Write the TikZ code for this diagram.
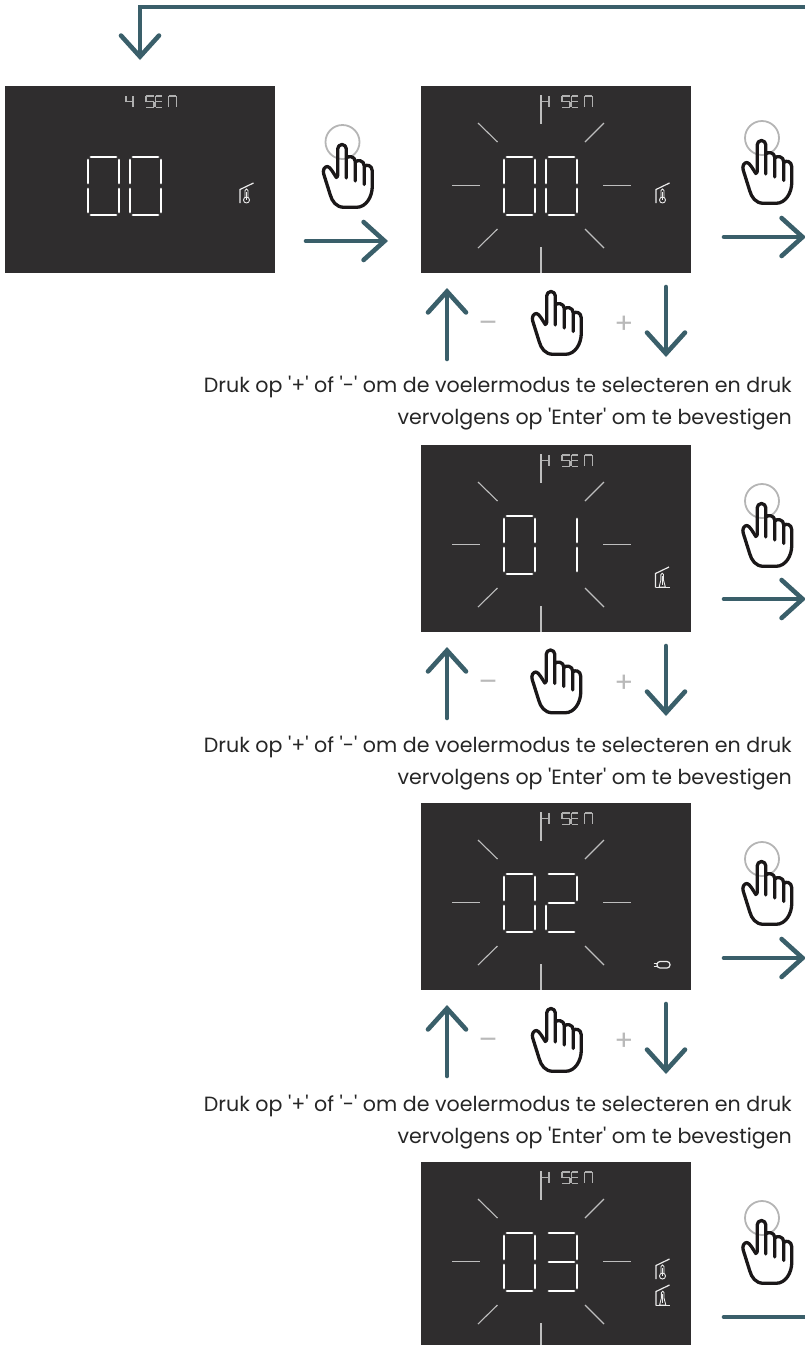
\documentclass[tikz,border=0pt]{standalone}
\usepackage{fontspec}
\newfontfamily\capfont{Poppins}
\usetikzlibrary{arrows.meta}
\definecolor{panelc}{HTML}{2F2D2E}
\definecolor{teal}{HTML}{3A5F6A}
\definecolor{rayc}{HTML}{BEBEBE}
\definecolor{smallc}{HTML}{B0B0B0}
\definecolor{signc}{HTML}{B9B9B9}
\definecolor{ringc}{HTML}{B5B5B5}
\definecolor{handc}{HTML}{1A1718}
\tikzset{
  panelbox/.style={fill=panelc,draw=none,inner sep=0pt,outer sep=0pt,anchor=north west,minimum width=270pt,minimum height=187pt},
  flow/.style={draw=teal,line width=4.6pt,line cap=round,line join=miter,-{Straight Barb[length=21pt,width=38pt,line cap=round]}},
  bigseg/.style={draw=white,line width=2.5pt,line cap=round},
  tinyseg/.style={draw=smallc,line width=1.2pt,line cap=butt},
  ray/.style={draw=rayc,line width=1.1pt},
  iconline/.style={draw=white!92!black,line width=1.2pt},
  handline/.style={draw=handc,line width=3.3pt,line cap=round,line join=round},
  ringline/.style={draw=ringc,line width=1.8pt},
  caption/.style={align=right,anchor=north east,inner sep=0pt,font=\capfont\fontsize{20.6}{31.6}\selectfont,text=black!85},
  signtext/.style={text=signc,inner sep=0pt,font=\capfont\fontsize{28}{28}\selectfont}
}
% x, y, w, h, style, list of segments (0 top,1 ul,2 ur,3 mid,4 ll,5 lr,6 bottom)
\newcommand\sevenseg[7][0.05]{%
  \foreach \s in {#7}{%
    \pgfmathsetmacro\gp{#5*#1}%
    \ifcase\s
      \draw[#6] (#2+\gp,#3) -- (#2+#4-\gp,#3);
    \or \draw[#6] (#2,#3+\gp) -- (#2,#3+#5/2-\gp);
    \or \draw[#6] (#2+#4,#3+\gp) -- (#2+#4,#3+#5/2-\gp);
    \or \draw[#6] (#2+\gp,#3+#5/2) -- (#2+#4-\gp,#3+#5/2);
    \or \draw[#6] (#2,#3+#5/2+\gp) -- (#2,#3+#5-\gp);
    \or \draw[#6] (#2+#4,#3+#5/2+\gp) -- (#2+#4,#3+#5-\gp);
    \or \draw[#6] (#2+\gp,#3+#5) -- (#2+#4-\gp,#3+#5);
    \fi}}
\newcommand\legend[2]{%
  \sevenseg[0.02]{#1+141}{#2+10}{8}{11.5}{tinyseg}{0,1,3,5,6}%
  \sevenseg[0.02]{#1+150.5}{#2+10}{7}{11.5}{tinyseg}{0,1,3,4,6}%
  \sevenseg[0.02]{#1+163.5}{#2+10}{8}{11.5}{tinyseg}{0,1,2,4,5}}
\newcommand\fourlegend[2]{%
  \sevenseg[0.02]{#1+121}{#2+10}{7}{11.5}{tinyseg}{1,2,3,5}%
  \legend{#1}{#2}}
\newcommand\hlegend[2]{%
  \sevenseg[0.02]{#1+120}{#2+10}{8}{11.5}{tinyseg}{2,3,5}%
  \legend{#1}{#2}}
\newcommand\rays[3]{%
  \draw[ray] (#1+120,#2+9) -- (#1+120,#2+38);
  \draw[ray] (#1+120,#2+161) -- (#1+120,#2+#3);
  \draw[ray] (#1+31,#2+99.5) -- (#1+59,#2+99.5);
  \draw[ray] (#1+182,#2+99.5) -- (#1+209.5,#2+99.5);
  \draw[ray] (#1+57,#2+37) -- (#1+76.5,#2+56);
  \draw[ray] (#1+183,#2+37) -- (#1+164,#2+56);
  \draw[ray] (#1+57,#2+162) -- (#1+76.5,#2+143);
  \draw[ray] (#1+183,#2+162) -- (#1+164,#2+143);}
\newcommand\houseicon[2]{%
  \draw[iconline] (#1,#2+20) -- (#1,#2+6.5) -- (#1+13.5,#2);
  \draw[iconline,line width=.9pt] (#1+5,#2+14.4) -- (#1+5,#2+7.5) arc[start angle=180,end angle=360,radius=1.5] -- (#1+8,#2+14.4);
  \draw[iconline,line width=.9pt] (#1+6.5,#2+17) circle[radius=3];
  \draw[iconline,line width=1.1pt] (#1+6.5,#2+9) -- (#1+6.5,#2+17);}
\newcommand\houseflat[2]{%
  \draw[iconline] (#1,#2+20.5) -- (#1,#2+6.5) -- (#1+13.5,#2);
  \draw[iconline] (#1,#2+20.5) -- (#1+14,#2+20.5);
  \draw[iconline,line width=.9pt] (#1+5.4,#2+13) -- (#1+5.4,#2+7.5) arc[start angle=180,end angle=360,radius=1.3] -- (#1+8,#2+13) -- (#1+9.8,#2+20) -- (#1+3.6,#2+20) -- cycle;
  \draw[iconline,line width=1.1pt] (#1+6.7,#2+9) -- (#1+6.7,#2+18);}
\newcommand\hand[2]{%
  \begin{scope}[shift={(#1,#2)}]
  \draw[handline] (-4.3,33) -- (-4.3,5.8) arc[start angle=180,end angle=360,radius=4.3] -- (4.3,35);
  \draw[handline] (4.3,15) .. controls (5.5,12.5) and (13.3,13) .. (13.3,18.5) -- (13.3,38);
  \draw[handline] (13.3,19) .. controls (15,16.5) and (22.3,17) .. (22.3,23) -- (22.3,41.5);
  \draw[handline] (22.3,23.5) .. controls (24,21) and (30.3,22) .. (30.3,28) -- (30.3,43)
    .. controls (30.3,54) and (24,64.3) .. (14.5,64.3) -- (2,64.3)
    .. controls (-6,64.3) and (-10,58) .. (-11.7,52) -- (-18.3,31)
    .. controls (-19.5,27) and (-17.5,23.5) .. (-14.5,23.5) .. controls (-12,23.5) and (-8,31) .. (-5.7,34.5) -- (-4.3,33);
  \end{scope}}
\begin{document}
\begin{tikzpicture}[x=1pt,y=-1pt]
\useasboundingbox (0,0) rectangle (804,1345);
\node[panelbox] (p1) at (5,86) {};
\node[panelbox] (p2) at (421,86) {};
\node[panelbox] (p3) at (421,445) {};
\node[panelbox] (p4) at (421,803) {};
\node[panelbox,minimum height=183pt] (p5) at (421,1162) {};
% panel 1
\fourlegend{5}{86}
\sevenseg{88}{157}{31}{58}{bigseg}{0,1,2,4,5,6}
\sevenseg{130}{157}{31}{58}{bigseg}{0,1,2,4,5,6}
\houseicon{240}{183}
% panel 2
\hlegend{421}{86}
\rays{421}{86}{187}
\sevenseg{504}{157}{31}{58}{bigseg}{0,1,2,4,5,6}
\sevenseg{546}{157}{31}{58}{bigseg}{0,1,2,4,5,6}
\houseicon{656}{183}
% panel 3
\hlegend{421}{445}
\rays{421}{445}{187}
\sevenseg{504}{516}{31}{58}{bigseg}{0,1,2,4,5,6}
\sevenseg{546}{516}{31}{58}{bigseg}{2,5}
\houseflat{655.5}{567}
% panel 4
\hlegend{421}{803}
\rays{421}{803}{187}
\sevenseg{504}{874}{31}{58}{bigseg}{0,1,2,4,5,6}
\sevenseg{546}{874}{31}{58}{bigseg}{0,2,3,4,6}
\draw[iconline,rounded corners=3pt] (657,961.5) rectangle (670,968);
\draw[iconline,line width=.9pt] (653.5,963.3) -- (657,963.3) (653.5,966.2) -- (657,966.2);
% panel 5
\hlegend{421}{1162}
\rays{421}{1162}{183}
\sevenseg{504}{1233}{31}{58}{bigseg}{0,1,2,4,5,6}
\sevenseg{546}{1233}{31}{58}{bigseg}{0,2,3,5,6}
\houseicon{656}{1259}
\houseflat{656}{1285}
% hands with ring
\node[circle,ringline,minimum size=34pt,inner sep=0pt] (r1) at (342.5,142) {};
\hand{342}{143}
\node[circle,ringline,minimum size=34pt,inner sep=0pt] (r2) at (762,138) {};
\hand{761.5}{139}
\node[circle,ringline,minimum size=34pt,inner sep=0pt] (r3) at (762,501) {};
\hand{761.5}{502}
\node[circle,ringline,minimum size=34pt,inner sep=0pt] (r4) at (762,859) {};
\hand{761.5}{860}
\node[circle,ringline,minimum size=34pt,inner sep=0pt] (r5) at (762,1218) {};
\hand{761.5}{1219}
% hands in the +/- rows
\hand{551}{290}
\hand{550.5}{648.5}
\hand{551}{1007}
% signs
\node[signtext] (m1) at (488,327) {–};
\node[signtext] (a1) at (624,325) {+};
\node[signtext] (m2) at (488,686) {–};
\node[signtext] (a2) at (624,684) {+};
\node[signtext] (m3) at (488,1044) {–};
\node[signtext] (a3) at (624,1042) {+};
% captions
\node[caption] (t1) at (792,376) {Druk op '+' of '-' om de voelermodus te selecteren en druk\\vervolgens op 'Enter' om te bevestigen};
\node[caption] (t2) at (792,736) {Druk op '+' of '-' om de voelermodus te selecteren en druk\\vervolgens op 'Enter' om te bevestigen};
\node[caption] (t3) at (792,1095) {Druk op '+' of '-' om de voelermodus te selecteren en druk\\vervolgens op 'Enter' om te bevestigen};
% flow
\coordinate (topR) at (806,7);
\coordinate (topL) at (140,7);
\coordinate (topD) at (140,60);
\draw[flow] (topR) -- (topL) -- (topD);
\coordinate (a1s) at (306,241); \coordinate (a1e) at (388,241);
\draw[flow] (a1s) -- (a1e);
\coordinate (a2s) at (724,237); \coordinate (a2e) at (806,237);
\draw[flow] (a2s) -- (a2e);
\coordinate (a3s) at (724,599); \coordinate (a3e) at (806,599);
\draw[flow] (a3s) -- (a3e);
\coordinate (a4s) at (724,958); \coordinate (a4e) at (806,958);
\draw[flow] (a4s) -- (a4e);
\coordinate (a5s) at (724,1317); \coordinate (a5e) at (806,1317);
\draw[flow,-] (a5s) -- (a5e);
\foreach \n/\dy in {1/0,2/359,3/717}{
  \coordinate (u\n s) at (447,359+\dy); \coordinate (u\n e) at (447,288+\dy);
  \coordinate (d\n s) at (666,287+\dy); \coordinate (d\n e) at (666,357+\dy);
  \draw[flow] (u\n s) -- (u\n e);
  \draw[flow] (d\n s) -- (d\n e);
}
\end{tikzpicture}
\end{document}
